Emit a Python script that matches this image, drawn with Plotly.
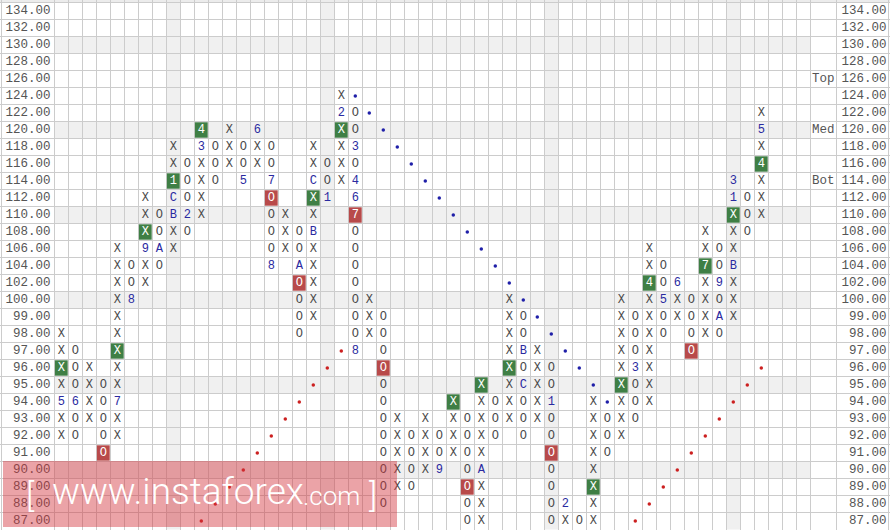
import plotly.graph_objects as go

# ---------------- data ----------------
prices = [134, 132, 130, 128, 126, 124, 122, 120, 118, 116, 114, 112, 110, 108, 106,
          104, 102, 100, 99, 98, 97, 96, 95, 94, 93, 92, 91, 90, 89, 88, 87]
price_labels = [f"{p:.2f}" for p in prices]

# point & figure columns (even index = X column, odd index = O column)
col_lo = [92, 92, 93, 91, 92, 100, 102, 104, 106, 108, 110, 114, 116, 114, 116, 104, 106,
          98, 99, 112, 114, 97, 98, 88, 89, 89, 90, 90, 91, 87, 87, 92, 93, 92, 93, 87,
          87, 87, 87, 91, 92, 93, 94, 98, 99, 97, 98, 98, 99, 108, 110]
col_hi = [98, 97, 96, 95, 106, 104, 112, 110, 118, 116, 120, 118, 120, 118, 120, 118, 110,
          108, 118, 116, 124, 122, 100, 99, 93, 92, 93, 92, 94, 93, 95, 94, 100, 99, 97, 96,
          88, 87, 94, 93, 100, 99, 106, 104, 102, 100, 108, 106, 114, 112, 122]

# highlighted boxes (signals)
green_cols = [0, 4, 6, 8, 10, 18, 20, 28, 30, 32, 38, 40, 42, 46, 48, 50]
green_prices = [96, 97, 108, 114, 120, 112, 120, 94, 95, 96, 89, 95, 102, 104, 110, 116]
green_text = ["X", "X", "X", "1", "4", "X", "X", "X", "X", "X", "X", "X", "4", "7", "X", "4"]

red_cols = [3, 15, 17, 21, 23, 29, 35, 45]
red_prices = [91, 112, 102, 110, 96, 89, 91, 97]
red_text = ["O", "O", "O", "7", "O", "O", "O", "O"]

# month markers
month_cols = [0, 1, 4, 5, 6, 7, 8, 8, 9, 10, 13, 14, 15, 15, 17, 18, 18, 19, 20, 21, 21,
              21, 21, 27, 30, 33, 33, 35, 36, 41, 43, 44, 47, 47, 48, 48, 48, 50]
month_prices = [94, 94, 94, 100, 106, 106, 110, 112, 110, 118, 114, 120, 114, 104, 104, 108,
                114, 112, 122, 118, 114, 112, 97, 90, 90, 97, 95, 94, 88, 96, 100, 102, 102,
                99, 104, 112, 114, 120]
month_text = ["5", "6", "7", "8", "9", "A", "B", "C", "2", "3", "5", "6", "7", "8", "A", "B",
              "C", "1", "2", "3", "4", "6", "8", "9", "A", "B", "C", "1", "2", "3", "5", "6",
              "9", "A", "B", "1", "3", "5"]

# trend lines (dotted)
red1_cols = [10, 11, 12, 13, 14, 15, 16, 17, 18, 19, 20]
red1_prices = [87, 88, 89, 90, 91, 92, 93, 94, 95, 96, 97]
blue_cols = [21, 22, 23, 24, 25, 26, 27, 28, 29, 30, 31, 32, 33, 34, 35, 36, 37, 38, 39]
blue_prices = [124, 122, 120, 118, 116, 114, 112, 110, 108, 106, 104, 102, 100, 99, 98, 97,
               96, 95, 94]
red2_cols = [41, 42, 43, 44, 45, 46, 47, 48, 49, 50]
red2_prices = [87, 88, 89, 90, 91, 92, 93, 94, 95, 96]

shade_prices = [130, 120, 110, 100, 95, 90]
shade_cols = [8, 19, 35, 48]

side_labels = ["Top", "Med", "Bot"]
side_prices = [126, 120, 114]

# ---------------- geometry ----------------
W, H = 890, 530
CW, RH = 14.0, 17.0
GX0 = 54.3          # left edge of grid (px)
GY0 = 2.5           # top edge of grid (px)
NCOL = 54
NROW = len(prices)
row_of = {p: i for i, p in enumerate(prices)}

xmin = -0.5 - GX0 / CW
xmax = xmin + W / CW
ytop = -0.5 - GY0 / RH
ybot = ytop + H / RH

def px2x(px):
    return xmin + px / CW

top_col_right = NCOL - 0.5 + 26 / CW
left_edge = px2x(1.5)
right_edge = px2x(888.0)

xgrid = [left_edge] + [c - 0.5 for c in range(NCOL + 1)] + [top_col_right, right_edge]
ygrid = [r - 0.5 for r in range(NROW + 1)]

# ---------------- cells ----------------
reg_x, reg_y, reg_t = [], [], []
special = set(zip(green_cols, green_prices)) | set(zip(red_cols, red_prices)) | \
    set(zip(month_cols, month_prices))
for c, (lo, hi) in enumerate(zip(col_lo, col_hi)):
    sym = "X" if c % 2 == 0 else "O"
    for p in prices:
        if lo <= p <= hi and (c, p) not in special:
            reg_x.append(c)
            reg_y.append(row_of[p])
            reg_t.append(sym)

shapes = []
# top strip
shapes.append(dict(type="rect", xref="paper", yref="paper", x0=0, x1=1,
                   y0=1 - GY0 / H, y1=1, fillcolor="#ececec", line_width=0, layer="below"))
for p in shade_prices:
    r = row_of[p]
    shapes.append(dict(type="rect", xref="x", yref="y", x0=-0.5, x1=NCOL - 0.5,
                       y0=r - 0.5, y1=r + 0.5, fillcolor="#f0f0f0", line_width=0,
                       layer="below"))
for c in shade_cols:
    shapes.append(dict(type="rect", xref="x", yref="y", x0=c - 0.5, x1=c + 0.5,
                       y0=-0.5, y1=NROW - 0.5, fillcolor="#f0f0f0", line_width=0,
                       layer="below"))
dx, dy = 0.6 / CW, 0.8 / RH
for c, p in zip(green_cols, green_prices):
    r = row_of[p]
    shapes.append(dict(type="rect", xref="x", yref="y", x0=c - 0.5 + dx, x1=c + 0.5 - dx,
                       y0=r - 0.5 + dy, y1=r + 0.5 - dy, fillcolor="#3f7f45",
                       line_width=0, layer="between"))
for c, p in zip(red_cols, red_prices):
    r = row_of[p]
    shapes.append(dict(type="rect", xref="x", yref="y", x0=c - 0.5 + dx, x1=c + 0.5 - dx,
                       y0=r - 0.5 + dy, y1=r + 0.5 - dy, fillcolor="#b84a4a",
                       line_width=0, layer="between"))

# watermark box
shapes.append(dict(type="rect", xref="paper", yref="paper", x0=3 / W, x1=397 / W,
                   y0=1 - 527 / H, y1=1 - 461 / H, fillcolor="rgba(210,50,60,0.45)",
                   line_width=0, layer="above"))

mono = "Liberation Mono, Courier New, monospace"
fig = go.Figure()

fig.add_trace(go.Scatter(x=reg_x, y=reg_y, text=reg_t, mode="text",
                         textfont=dict(family=mono, size=12, color="#4a4a4a"),
                         hoverinfo="skip"))
fig.add_trace(go.Scatter(x=month_cols, y=[row_of[p] for p in month_prices], text=month_text,
                         mode="text", textfont=dict(family=mono, size=12, color="#2a2aa0"),
                         hoverinfo="skip"))
fig.add_trace(go.Scatter(x=green_cols, y=[row_of[p] for p in green_prices], text=green_text,
                         mode="text", textfont=dict(family=mono, size=12, color="white"),
                         hoverinfo="skip"))
fig.add_trace(go.Scatter(x=red_cols, y=[row_of[p] for p in red_prices], text=red_text,
                         mode="text", textfont=dict(family=mono, size=12, color="white"),
                         hoverinfo="skip"))
for cols, prs, colr in [(red1_cols, red1_prices, "#cc2020"),
                        (blue_cols, blue_prices, "#1f1fa8"),
                        (red2_cols, red2_prices, "#cc2020")]:
    fig.add_trace(go.Scatter(x=cols, y=[row_of[p] for p in prs], mode="markers",
                             marker=dict(size=3.5, color=colr), hoverinfo="skip"))

# price labels left and right
fig.add_trace(go.Scatter(x=[px2x(50.5)] * NROW, y=list(range(NROW)), text=price_labels,
                         mode="text", textposition="middle left",
                         textfont=dict(family=mono, size=12.5, color="#555555"),
                         hoverinfo="skip"))
fig.add_trace(go.Scatter(x=[px2x(886.5)] * NROW, y=list(range(NROW)), text=price_labels,
                         mode="text", textposition="middle left",
                         textfont=dict(family=mono, size=12.5, color="#555555"),
                         hoverinfo="skip"))
fig.add_trace(go.Scatter(x=[(NCOL - 0.5 + top_col_right) / 2] * 3,
                         y=[row_of[p] for p in side_prices], text=side_labels, mode="text",
                         textfont=dict(family=mono, size=12.5, color="#555555"),
                         hoverinfo="skip"))

ann = [
    dict(text="[", x=31 / W, y=1 - 495 / H, font=dict(size=34)),
    dict(text="www.instaforex", x=178 / W, y=1 - 491 / H, font=dict(size=37)),
    dict(text=".com", x=331 / W, y=1 - 496 / H, font=dict(size=26)),
    dict(text="]", x=373 / W, y=1 - 495 / H, font=dict(size=34)),
]
annotations = []
for a in ann:
    a["font"].update(family="Roboto, Open Sans, sans-serif", color="white", weight=300)
    annotations.append(dict(xref="paper", yref="paper", showarrow=False,
                            xanchor="center", yanchor="middle", **a))

fig.update_layout(
    width=W, height=H, margin=dict(l=0, r=0, t=0, b=0),
    paper_bgcolor="white", plot_bgcolor="white", showlegend=False,
    shapes=shapes, annotations=annotations,
    xaxis=dict(range=[xmin, xmax], tickvals=xgrid, showticklabels=False, ticks="",
               showgrid=True, gridcolor="#cccccc", gridwidth=1, zeroline=False,
               showline=False, fixedrange=True),
    yaxis=dict(range=[ybot, ytop], tickvals=ygrid, showticklabels=False, ticks="",
               showgrid=True, gridcolor="#cccccc", gridwidth=1, zeroline=False,
               showline=False, fixedrange=True),
)
fig.write_html("out.html", config={"displayModeBar": False},
               post_script="document.body.style.margin='0';document.body.style.overflow='hidden';")
